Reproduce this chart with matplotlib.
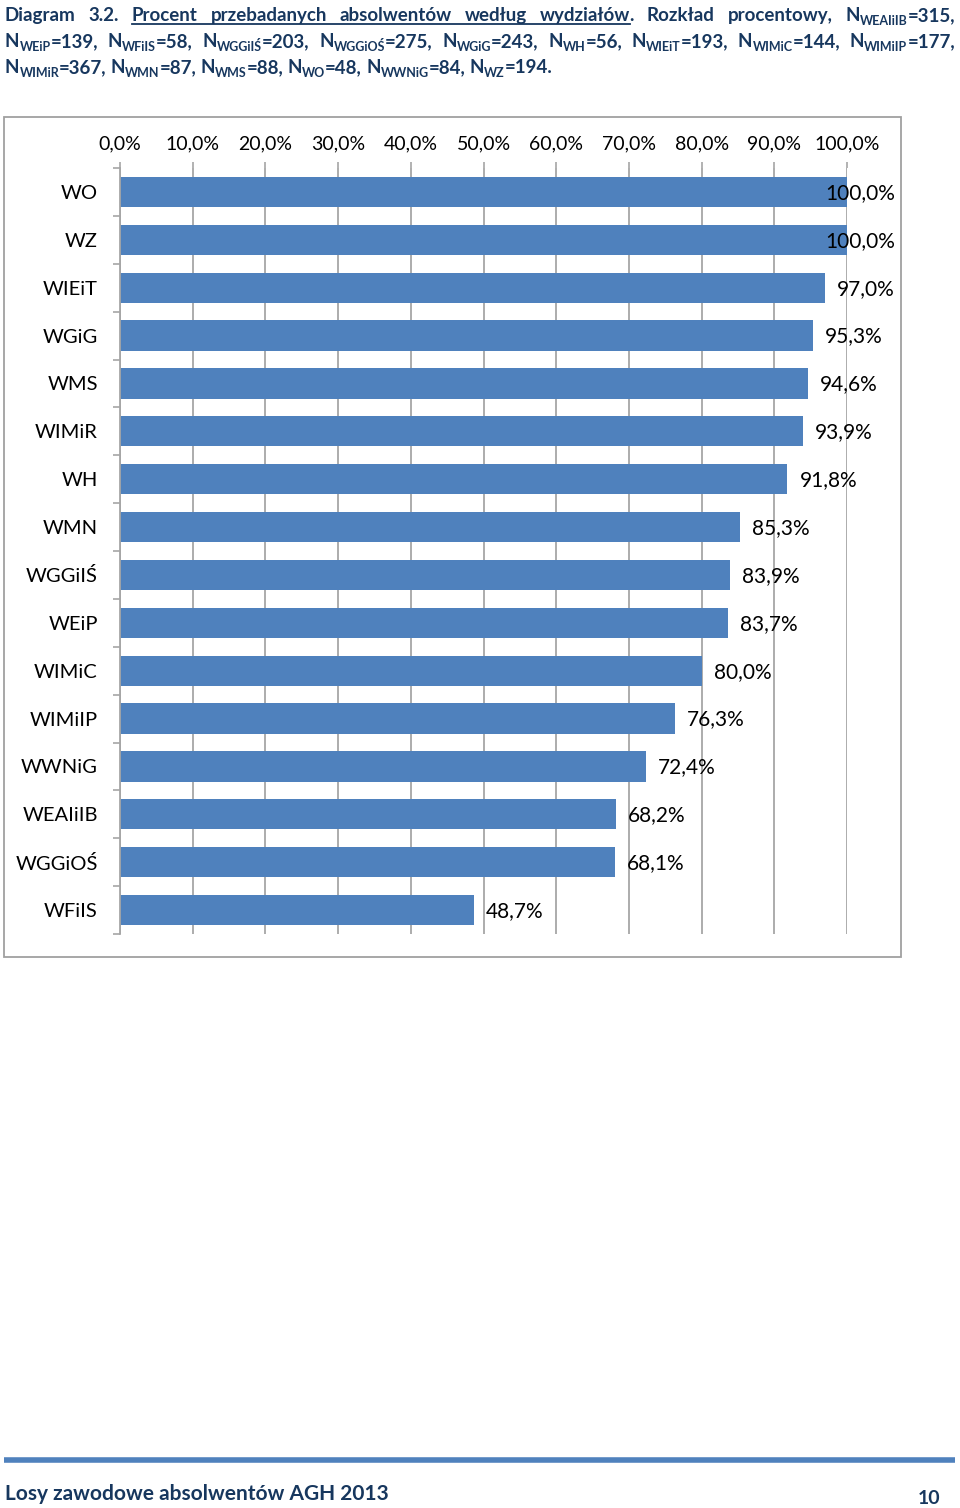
import re
import numpy as np
import matplotlib
matplotlib.use('Agg')
import matplotlib.pyplot as plt
from matplotlib.lines import Line2D
from matplotlib.patches import Rectangle

plt.rcParams['font.family'] = ['Lato', 'DejaVu Sans']

# dane
wydzialy = ['WO', 'WZ', 'WIEiT', 'WGiG', 'WMS', 'WIMiR', 'WH', 'WMN', 'WGGiIŚ',
            'WEiP', 'WIMiC', 'WIMiIP', 'WWNiG', 'WEAIiIB', 'WGGiOŚ', 'WFiIS']
procent = [100.0, 100.0, 97.0, 95.3, 94.6, 93.9, 91.8, 85.3, 83.9,
           83.7, 80.0, 76.3, 72.4, 68.2, 68.1, 48.7]
xticks = [0, 10, 20, 30, 40, 50, 60, 70, 80, 90, 100]

tytul_1 = ['Diagram', '3.2.', '~Procent', '~przebadanych', '~absolwentów', '~według',
           '~wydziałów|.', 'Rozkład', 'procentowy,', 'N_WEAIiIB=315,']
tytul_2 = ['N_WEiP=139,', 'N_WFiIS=58,', 'N_WGGiIŚ=203,', 'N_WGGiOŚ=275,', 'N_WGiG=243,',
           'N_WH=56,', 'N_WIEiT=193,', 'N_WIMiC=144,', 'N_WIMiIP=177,']
tytul_3 = ['N_WIMiR=367,', 'N_WMN=87,', 'N_WMS=88,', 'N_WO=48,', 'N_WWNiG=84,', 'N_WZ=194.']
stopka = 'Losy zawodowe absolwentów AGH 2013'
strona = '10'

NIEBIESKI = '#4F81BD'
GRANAT = '#17375E'
SZARY = '#A6A6A6'

W, H = 960, 1508
fig = plt.figure(figsize=(W / 100, H / 100), dpi=100)
r = fig.canvas.get_renderer()


def fc(x, y):
    # piksele (od gory) -> wsp. figury
    return x / W, 1 - y / H


def slowo(s):
    # rozbija slowo na kawalki: (tekst, indeks dolny?, podkreslenie?)
    und = s.startswith('~')
    s = s.lstrip('~')
    m = re.match(r'^N_(\w+?)(=.*)$', s)
    if m:
        runs = [('N', False, False), (m.group(1), True, False), (m.group(2), False, False)]
    elif '|' in s:
        a, b = s.split('|')
        runs = [(a, False, und), (b, False, False)]
    else:
        runs = [(s, False, und)]
    arts = []
    for txt, sub, u in runs:
        t = fig.text(0, 0, txt, fontsize=9 if sub else 13.5, fontweight='bold',
                     color=GRANAT, va='baseline')
        arts.append([t, sub, u, t.get_window_extent(r).width])
    return arts


def linia(words, y, x0=5, x1=None, gap=6):
    arts = [slowo(w) for w in words]
    widths = [sum(a[3] for a in w) for w in arts]
    if x1 is not None:
        gap = (x1 - x0 - sum(widths)) / (len(words) - 1)
    x = x0
    u_start, u_end = None, None
    for w in arts:
        for t, sub, u, wd in w:
            t.set_position(fc(x, y + (4 if sub else 0)))
            if u:
                if u_start is None:
                    u_start = x
                u_end = x + wd
            x += wd
        x += gap
    if u_start is not None:
        fig.add_artist(Line2D([u_start / W, u_end / W], [1 - (y + 3) / H] * 2,
                              color=GRANAT, lw=1.3))


linia(tytul_1, 21, 5, 955)
linia(tytul_2, 47, 5, 955)
linia(tytul_3, 73, 5, None, gap=4)

# ramka wykresu
fig.add_artist(Rectangle(fc(4, 957), 897 / W, 840 / H, fill=False,
                         edgecolor='#A0A0A0', lw=1.3, transform=fig.transFigure))

# wykres
ax = fig.add_axes([120 / W, 1 - 934 / H, 727 / W, 766 / H])
y = np.arange(len(wydzialy))
ax.barh(y, procent, height=0.63, color=NIEBIESKI, zorder=2)
ax.set_xlim(0, 100)
ax.set_ylim(len(wydzialy) - 0.5, -0.5)

ax.xaxis.tick_top()
ax.set_xticks(xticks)
ax.set_xticklabels([f'{v:.1f}%'.replace('.', ',') for v in xticks], fontsize=14)
ax.tick_params(axis='x', length=4.5, color=SZARY, width=1.2, pad=7)
ax.grid(axis='x', color=SZARY, lw=1.3, zorder=0)
ax.set_axisbelow(True)

ax.set_yticks(y)
ax.set_yticklabels(wydzialy, fontsize=14.5)
ax.set_yticks(np.arange(len(wydzialy) + 1) - 0.5, minor=True)
ax.tick_params(axis='y', which='major', length=0, pad=16)
ax.tick_params(axis='y', which='minor', length=5, color=SZARY, width=1.2)

for s in ['top', 'right', 'bottom']:
    ax.spines[s].set_visible(False)
ax.spines['left'].set_color(SZARY)
ax.spines['left'].set_linewidth(1.3)

# etykiety wartosci
granica = 895
for i, v in enumerate(procent):
    lab = f'{v:.1f}%'.replace('.', ',')
    t = ax.annotate(lab, (v, i), xycoords='data', textcoords='offset pixels',
                    xytext=(12, -1), ha='left', va='center', fontsize=15)
    koniec = ax.transData.transform((v, i))[0]
    w = t.get_window_extent(r).width
    dx = min(12, granica - w - koniec)
    t.set_position((dx, -1))

# stopka
fig.add_artist(Line2D([4 / W, 955 / W], [1 - 1460 / H] * 2, color=NIEBIESKI, lw=4,
                      solid_capstyle='butt'))
fig.text(*fc(5, 1500), stopka, fontsize=15, fontweight='bold', color=GRANAT, va='baseline')
fig.text(*fc(940, 1504), strona, fontsize=14, fontweight='bold', color=GRANAT,
         va='baseline', ha='right')

fig.savefig('out.png', dpi=100)
